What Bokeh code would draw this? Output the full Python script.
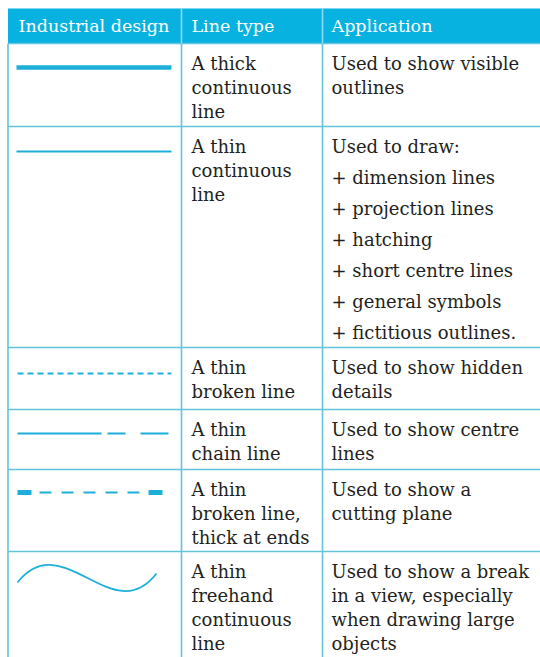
from bokeh.plotting import figure
from bokeh.models import Range1d, ColumnDataSource
from bokeh.core.properties import value
from bokeh.embed import file_html
from bokeh.resources import INLINE

# ---- table content ----
header = ["Industrial design", "Line type", "Application"]
line_types = [
    ["A thick", "continuous", "line"],
    ["A thin", "continuous", "line"],
    ["A thin", "broken line"],
    ["A thin", "chain line"],
    ["A thin", "broken line,", "thick at ends"],
    ["A thin", "freehand", "continuous", "line"],
]
applications = [
    ["Used to show visible", "outlines"],
    ["Used to draw:", "+ dimension lines", "+ projection lines", "+ hatching",
     "+ short centre lines", "+ general symbols", "+ fictitious outlines."],
    ["Used to show hidden", "details"],
    ["Used to show centre", "lines"],
    ["Used to show a", "cutting plane"],
    ["Used to show a break", "in a view, especially", "when drawing large", "objects"],
]
sample_styles = ["thick", "thin", "dashed", "chain", "cutting", "freehand"]

# ---- layout (page pixels) ----
W, H = 540, 657
col_edges = [7.5, 181, 322, 540]
row_edges = [8, 43, 126, 347, 409, 469, 551, 657]
HEAD = "#08B2E0"
GRID = "#62C4DC"
INK = "#231F20"
LINE = "#1DAFD9"
FONT = "DejaVu Serif"
SHIFT = 7.5  # baseline correction of the SVG text rendering

p = figure(width=W, height=H, x_range=Range1d(0, W), y_range=Range1d(H, 0),
           output_backend="svg", toolbar_location=None, min_border=0)
p.axis.visible = False
p.grid.visible = False
p.outline_line_color = None
p.background_fill_color = "white"
p.border_fill_color = "white"

# header band
p.quad(left=[col_edges[0]], right=[col_edges[-1]], top=[row_edges[0]], bottom=[row_edges[1]],
       fill_color=HEAD, line_color=None)

# grid lines
p.segment(x0=[col_edges[0]] * (len(row_edges) - 2), x1=[col_edges[-1]] * (len(row_edges) - 2),
          y0=row_edges[1:-1], y1=row_edges[1:-1], line_color=GRID, line_width=1.6)
p.segment(x0=col_edges[:3], x1=col_edges[:3], y0=[row_edges[1]] * 3, y1=[row_edges[-1]] * 3,
          line_color=GRID, line_width=1.6)
p.segment(x0=col_edges[1:3], x1=col_edges[1:3], y0=[row_edges[0]] * 2, y1=[row_edges[1]] * 2,
          line_color="#8FD9EE", line_width=1.6)

# header text
p.text(x=[18, 191, 331], y=[33 - SHIFT] * 3, text=header, text_color="white",
       text_font=value(FONT), text_font_size="17.5px", text_baseline="alphabetic")

# body text
tx, ty, tt = [], [], []
for i, (lt, ap) in enumerate(zip(line_types, applications)):
    top = row_edges[i + 1]
    for j, s in enumerate(lt):
        tx.append(191); ty.append(top + 27 + 24 * j - SHIFT); tt.append(s)
    for j, s in enumerate(ap):
        step = 31 if len(ap) > 4 else 24
        tx.append(331); ty.append(top + 27 + step * j - SHIFT); tt.append(s)
p.text(x="x", y="y", text="t", source=ColumnDataSource(dict(x=tx, y=ty, t=tt)),
       text_color=INK, text_font=value(FONT), text_font_size="18px", text_baseline="alphabetic")

# line samples
for i, st in enumerate(sample_styles):
    top = row_edges[i + 1]
    if st == "thick":
        p.line([16, 171], [top + 24, top + 24], line_color=LINE, line_width=4.5)
    elif st == "thin":
        p.line([16, 171], [top + 25, top + 25], line_color=LINE, line_width=1.8)
    elif st == "dashed":
        p.line([17, 171], [top + 26, top + 26], line_color=LINE, line_width=2, line_dash="6 4")
    elif st == "chain":
        p.line([17, 168], [top + 24, top + 24], line_color=LINE, line_width=2,
               line_dash="84 6 18 15 28 60")
    elif st == "cutting":
        yy = top + 23
        p.line([39, 140], [yy, yy], line_color=LINE, line_width=2, line_dash="12 10")
        p.segment(x0=[17, 148], x1=[31, 162], y0=[yy, yy], y1=[yy, yy],
                  line_color=LINE, line_width=5)
    elif st == "freehand":
        p.bezier(x0=[17], y0=[top + 31], x1=[156], y1=[top + 22], cx0=[62], cy0=[top - 26],
                 cx1=[112], cy1=[top + 79], line_color=LINE, line_width=1.8)

open("out.html", "w").write(file_html(p, INLINE))
